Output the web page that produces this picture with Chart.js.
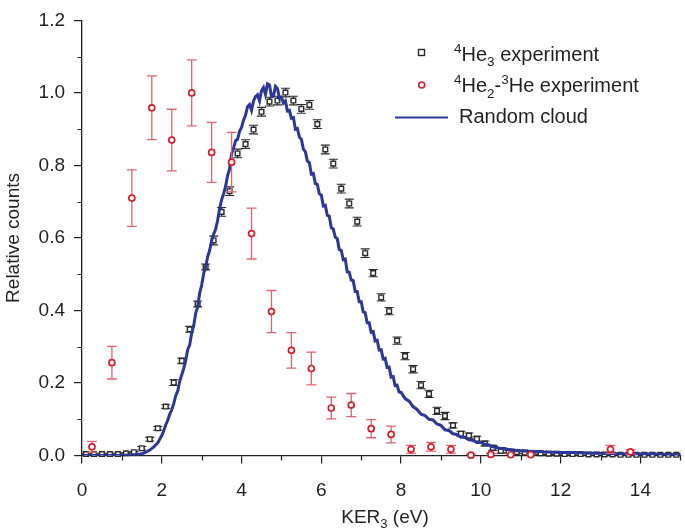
<!DOCTYPE html>
<html>
<head>
<meta charset="utf-8">
<script src="https://cdn.jsdelivr.net/npm/chart.js@4/dist/chart.umd.min.js"></script>
<style>
html,body{margin:0;padding:0;background:#fff;}
#wrap{width:685px;height:532px;position:relative;}
</style>
</head>
<body>
<div id="wrap"><canvas id="c" width="685" height="532"></canvas></div>
<script>
// ---- Data ----
const xTicks = [0, 2, 4, 6, 8, 10, 12, 14];
const yTicks = [0.0, 0.2, 0.4, 0.6, 0.8, 1.0, 1.2];

// 4He3 experiment (black squares)
const he4Ker = [0.1,0.3,0.5,0.7,0.9,1.1,1.3,1.5,1.7,1.9,2.1,2.3,2.5,2.7,2.9,3.1,3.3,3.5,3.7,3.9,
  4.1,4.3,4.5,4.7,4.9,5.1,5.3,5.5,5.7,5.9,6.1,6.3,6.5,6.7,6.9,7.1,7.3,7.5,7.7,7.9,
  8.1,8.3,8.5,8.7,8.9,9.1,9.3,9.5,9.7,9.9,10.1,10.3,10.5,10.7,10.9,11.1,11.3,11.5,11.7,11.9,
  12.1,12.3,12.5,12.7,12.9,13.1,13.3,13.5,13.7,13.9,14.1,14.3,14.5,14.7,14.9];
const he4Counts = [0.004,0.004,0.004,0.004,0.004,0.006,0.009,0.020,0.045,0.075,0.135,0.201,0.261,0.348,0.418,0.520,0.593,0.672,0.729,0.833,
  0.859,0.899,0.948,0.976,0.979,1.001,0.979,0.956,0.967,0.914,0.844,0.805,0.736,0.695,0.645,0.558,0.503,0.436,0.398,0.317,
  0.274,0.238,0.194,0.170,0.123,0.109,0.083,0.060,0.055,0.046,0.033,0.021,0.013,0.011,0.009,0.008,0.007,0.006,0.005,0.005,
  0.004,0.004,0.004,0.003,0.003,0.003,0.003,0.002,0.002,0.002,0.002,0.002,0.002,0.002,0.002];
const he4Err = [0.002,0.002,0.002,0.002,0.002,0.002,0.002,0.005,0.005,0.005,0.005,0.008,0.008,0.008,0.008,0.008,0.012,0.012,0.012,0.012,
  0.012,0.012,0.012,0.012,0.012,0.012,0.012,0.012,0.012,0.012,0.012,0.012,0.012,0.012,0.012,0.012,0.010,0.010,0.010,0.010,
  0.010,0.010,0.010,0.010,0.010,0.010,0.007,0.007,0.007,0.007,0.007,0.007,0.007,0.003,0.003,0.003,0.003,0.003,0.003,0.003,
  0.003,0.003,0.003,0.003,0.003,0.003,0.003,0.003,0.003,0.003,0.003,0.003,0.003,0.003,0.003];

// 4He2-3He experiment (red circles)
const mixKer = [0.25,0.75,1.25,1.75,2.25,2.75,3.25,3.75,4.25,4.75,5.25,5.75,6.25,6.75,7.25,7.75,
  8.25,8.75,9.25,9.75,10.25,10.75,11.25,13.25,13.75];
const mixCounts = [0.024,0.256,0.710,0.959,0.870,1.000,0.836,0.809,0.612,0.397,0.290,0.240,0.131,0.139,0.074,0.058,
  0.017,0.024,0.017,0.001,0.003,0.002,0.002,0.017,0.010];
const mixErr = [0.015,0.045,0.078,0.088,0.085,0.091,0.083,0.082,0.070,0.058,0.049,0.045,0.030,0.032,0.025,0.023,
  0.011,0.012,0.011,0.003,0.003,0.003,0.002,0.011,0.006];

// Random cloud (blue line)
const cloudKer = [0,0.5,1.0,1.1,1.2,1.3,1.4,1.5,1.6,1.7,1.8,1.9,
  2.00,2.05,2.10,2.15,2.20,2.25,2.30,2.35,2.40,2.45,2.50,2.55,2.60,2.65,2.70,2.75,2.80,2.85,2.90,2.95,
  3.00,3.05,3.10,3.15,3.20,3.25,3.30,3.35,3.40,3.45,3.50,3.55,3.60,3.65,3.70,3.75,3.80,3.85,3.90,3.95,
  4.00,4.05,4.10,4.15,4.20,4.25,4.30,4.35,4.40,4.45,4.50,4.55,4.60,4.65,4.70,4.75,4.80,4.85,4.90,4.95,
  5.00,5.05,5.10,5.15,5.20,5.25,5.30,5.35,5.40,5.45,5.50,5.55,5.60,5.65,5.70,5.75,5.80,5.85,5.90,5.95,
  6.00,6.05,6.10,6.15,6.20,6.25,6.30,6.35,6.40,6.45,6.50,6.55,6.60,6.65,6.70,6.75,6.80,6.85,6.90,6.95,
  7.00,7.05,7.10,7.15,7.20,7.25,7.30,7.35,7.40,7.45,7.50,7.55,7.60,7.65,7.70,7.75,7.80,7.85,7.90,7.95,
  8.0,8.1,8.2,8.3,8.4,8.5,8.6,8.7,8.8,8.9,
  9.0,9.1,9.2,9.3,9.4,9.5,9.6,9.7,9.8,9.9,10.0,10.1,10.2,10.3,10.4,10.5,10.6,10.7,10.8,10.9,
  11.0,11.2,11.4,11.6,11.8,12.0,12.2,12.4,12.6,12.8,13.0,13.2,13.4,13.6,13.8,14.0,14.2,14.4,14.6,14.8,15.0];
const cloudCounts = [0,0,0,0.001,0.001,0.002,0.003,0.005,0.009,0.015,0.024,0.035,
  0.055,0.068,0.085,0.097,0.114,0.126,0.143,0.165,0.178,0.205,0.222,0.240,0.262,0.292,0.305,0.338,0.358,0.392,0.410,0.448,
  0.470,0.502,0.520,0.548,0.566,0.592,0.610,0.624,0.648,0.682,0.705,0.722,0.742,0.772,0.790,0.832,0.848,0.868,0.872,0.894,
  0.905,0.925,0.938,0.962,0.968,0.952,0.978,0.990,0.995,0.978,1.006,1.015,0.996,1.025,1.022,0.990,0.992,1.018,1.012,0.985,
  0.988,0.972,0.978,0.950,0.952,0.930,0.932,0.900,0.902,0.878,0.872,0.845,0.838,0.812,0.808,0.776,0.778,0.750,0.748,0.722,
  0.718,0.688,0.690,0.662,0.660,0.628,0.625,0.602,0.598,0.568,0.566,0.540,0.542,0.506,0.505,0.484,0.482,0.452,0.452,0.424,
  0.424,0.396,0.394,0.366,0.366,0.340,0.342,0.316,0.318,0.291,0.292,0.266,0.268,0.243,0.244,0.216,0.218,0.193,0.194,0.175,
  0.174,0.157,0.150,0.135,0.127,0.114,0.110,0.100,0.098,0.087,
  0.083,0.071,0.069,0.060,0.058,0.050,0.050,0.043,0.042,0.036,0.036,0.031,0.029,0.024,0.022,0.019,0.019,0.016,0.016,0.013,
  0.013,0.012,0.011,0.010,0.009,0.008,0.008,0.008,0.007,0.006,0.006,0.005,0.005,0.004,0.004,0.004,0.004,0.004,0.003,0.003,0.003];

// ---- styles ----
const FONT = "'Liberation Sans', Arial, Helvetica, sans-serif";
const TEXT = '#231f20';
const AXIS = '#231f20';
const RED = '#d3202c';
const RED_ERR = '#e2646c';
const BLUE = '#2b3799';
const BLACK = '#2a2a2a';

const pairs = (xs, ys) => xs.map((x, i) => ({x: x, y: ys[i]}));

const errorBars = {
  id: 'errorBars',
  beforeDatasetDraw(chart, args) {
    const ds = chart.data.datasets[args.index];
    if (!ds.errors) return;
    const xs = chart.scales.x, ys = chart.scales.y, ctx = chart.ctx;
    ctx.save();
    ctx.strokeStyle = ds.errColor;
    ctx.lineWidth = ds.errWidth;
    ds.data.forEach((p, i) => {
      const e = ds.errors[i];
      if (!e) return;
      const px = xs.getPixelForValue(p.x);
      const top = ys.getPixelForValue(p.y + e);
      const bot = ys.getPixelForValue(Math.max(p.y - e, 0));
      const hw = ds.capHalf;
      ctx.beginPath();
      ctx.moveTo(px, top); ctx.lineTo(px, bot);
      ctx.moveTo(px - hw, top); ctx.lineTo(px + hw, top);
      if (p.y - e > 0) { ctx.moveTo(px - hw, bot); ctx.lineTo(px + hw, bot); }
      ctx.stroke();
    });
    ctx.restore();
  }
};

const extras = {
  id: 'extras',
  afterDraw(chart) {
    const ctx = chart.ctx, xs = chart.scales.x, ys = chart.scales.y;
    const a = chart.chartArea;
    ctx.save();
    // minor ticks
    ctx.strokeStyle = AXIS; ctx.lineWidth = 1.2;
    ctx.beginPath();
    for (let v = 1; v <= 15; v += 2) {
      const px = Math.round(xs.getPixelForValue(v)) + 0.5;
      ctx.moveTo(px, a.bottom); ctx.lineTo(px, a.bottom + 5);
    }
    for (let k = 1; k <= 11; k += 2) {
      const py = Math.round(ys.getPixelForValue(k / 10)) + 0.5;
      ctx.moveTo(a.left, py); ctx.lineTo(a.left - 4.5, py);
    }
    ctx.stroke();

    ctx.fillStyle = TEXT;
    ctx.textBaseline = 'alphabetic';
    ctx.textAlign = 'left';
    const drawRuns = (runs, x, y) => {
      let cx = x;
      runs.forEach(r => {
        ctx.font = r.f;
        ctx.fillText(r.t, cx, y + (r.dy || 0));
        cx += ctx.measureText(r.t).width;
      });
      return cx;
    };
    const measureRuns = runs => runs.reduce((s, r) => { ctx.font = r.f; return s + ctx.measureText(r.t).width; }, 0);

    // x axis title with subscript
    const tBig = '19px ' + FONT, tSmall = '13px ' + FONT;
    const xt = [{t:'KER', f: tBig}, {t:'3', f: tSmall, dy: 5}, {t:' (eV)', f: tBig}];
    const w = measureRuns(xt);
    drawRuns(xt, 385 - w / 2, 523);

    // legend
    const big = '20px ' + FONT, small = '13.5px ' + FONT;
    const lx = 454;
    ctx.strokeStyle = BLACK; ctx.lineWidth = 1.4; ctx.fillStyle = '#fff';
    ctx.fillRect(418.5, 49.5, 6, 6); ctx.strokeRect(418.5, 49.5, 6, 6);
    ctx.fillStyle = TEXT;
    drawRuns([{t:'4', f: small, dy: -8}, {t:'He', f: big}, {t:'3', f: small, dy: 5.5}, {t:' experiment', f: big}], lx, 60.5);
    ctx.strokeStyle = RED; ctx.lineWidth = 1.6;
    ctx.beginPath(); ctx.arc(421.7, 85, 3, 0, Math.PI * 2); ctx.stroke();
    ctx.fillStyle = TEXT;
    drawRuns([{t:'4', f: small, dy: -8}, {t:'He', f: big}, {t:'2', f: small, dy: 5.5}, {t:'-', f: big},
              {t:'3', f: small, dy: -8}, {t:'He experiment', f: big}], lx, 92);
    ctx.strokeStyle = BLUE; ctx.lineWidth = 2;
    ctx.beginPath(); ctx.moveTo(395, 117.5); ctx.lineTo(448, 117.5); ctx.stroke();
    drawRuns([{t:'Random cloud', f: big}], 459, 123);
    ctx.restore();
  }
};

new Chart(document.getElementById('c'), {
  type: 'scatter',
  data: {
    datasets: [
      {
        label: '4He2-3He experiment',
        data: pairs(mixKer, mixCounts),
        errors: mixErr, errColor: RED_ERR, errWidth: 1.3, capHalf: 5,
        showLine: false,
        pointStyle: 'circle', pointRadius: 3, pointBorderWidth: 1.7,
        borderColor: RED, backgroundColor: '#ffffff',
        pointHoverRadius: 3,
        clip: false
      },
      {
        label: 'Random cloud',
        type: 'line',
        data: pairs(cloudKer, cloudCounts),
        borderColor: BLUE, borderWidth: 3,
        pointRadius: 0, tension: 0, fill: false
      },
      {
        label: '4He3 experiment',
        data: pairs(he4Ker, he4Counts),
        errors: he4Err, errColor: BLACK, errWidth: 1.1, capHalf: 4.5,
        showLine: false,
        pointStyle: 'rect', pointRadius: 3.3, pointBorderWidth: 1.4,
        borderColor: BLACK, backgroundColor: '#ffffff',
        pointHoverRadius: 3.3,
        clip: false
      }
    ]
  },
  options: {
    responsive: false,
    animation: false,
    events: [],
    layout: { padding: { top: 12, right: 2, left: 0, bottom: 0 } },
    plugins: { legend: { display: false }, tooltip: { enabled: false } },
    scales: {
      x: {
        type: 'linear', min: 0, max: 15,
        afterBuildTicks: s => { s.ticks = xTicks.map(v => ({value: v})); },
        afterFit: s => { s.height = 76.5; },
        border: { display: true, color: AXIS, width: 1.3 },
        grid: { display: true, drawOnChartArea: false, drawTicks: true, tickLength: 8, color: AXIS, lineWidth: 1.2 },
        ticks: { color: TEXT, font: { family: FONT, size: 19 }, padding: 16, maxRotation: 0,
                 callback: v => String(v) }
      },
      y: {
        type: 'linear', min: 0, max: 1.2,
        afterBuildTicks: s => { s.ticks = yTicks.map(v => ({value: v})); },
        afterFit: s => { s.width = 82; },
        border: { display: true, color: AXIS, width: 1.3 },
        grid: { display: true, drawOnChartArea: false, drawTicks: true, tickLength: 8, color: AXIS, lineWidth: 1.2 },
        ticks: { color: TEXT, font: { family: FONT, size: 19 }, padding: 9,
                 callback: v => Number(v).toFixed(1) },
        title: { display: true, text: 'Relative counts', color: TEXT,
                 font: { family: FONT, size: 19 }, padding: { top: 2, bottom: 0 } }
      }
    }
  },
  plugins: [errorBars, extras]
});
</script>
</body>
</html>
